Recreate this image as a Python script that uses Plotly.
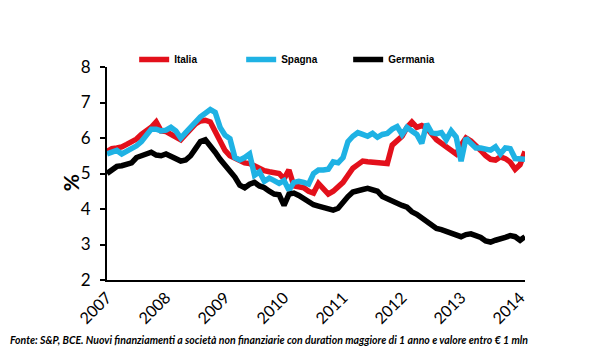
import plotly.graph_objects as go

years = ["2007", "2008", "2009", "2010", "2011", "2012", "2013", "2014"]

italia = [5.62, 5.70, 5.72, 5.75, 5.82, 5.90, 5.97, 6.10, 6.20, 6.30, 6.45, 6.20,
          6.18, 6.10, 6.00, 5.95, 6.10, 6.25, 6.40, 6.48, 6.50, 6.45, 6.20, 5.90,
          5.65, 5.50, 5.42, 5.35, 5.30, 5.28, 5.22, 5.12, 5.08, 5.05, 5.02, 5.00,
          4.85, 5.10, 4.65, 4.62, 4.60, 4.50, 4.45, 4.72, 4.55, 4.42, 4.50, 4.62,
          4.75, 4.95, 5.15, 5.25, 5.35, 5.33, 5.32, 5.30, 5.30, 5.28, 5.80, 5.95,
          6.05, 6.30, 6.45, 6.30, 6.35, 6.28, 6.10, 5.95, 5.85, 5.75, 5.62, 5.55,
          5.80, 6.00, 5.92, 5.80, 5.65, 5.50, 5.40, 5.38, 5.47, 5.42, 5.32, 5.12,
          5.25, 5.62]

spagna = [5.55, 5.60, 5.65, 5.55, 5.62, 5.70, 5.78, 5.90, 6.10, 6.25, 6.25, 6.20,
          6.22, 6.30, 6.20, 6.00, 6.15, 6.30, 6.50, 6.60, 6.70, 6.80, 6.72, 6.30,
          6.08, 5.98, 5.45, 5.38, 5.45, 5.55, 4.95, 5.05, 4.78, 4.87, 4.80, 4.72,
          4.80, 4.53, 4.75, 4.78, 4.75, 4.70, 5.00, 5.10, 5.10, 5.12, 5.33, 5.30,
          5.45, 5.90, 6.05, 6.15, 6.10, 6.05, 6.13, 6.02, 6.10, 6.13, 6.25, 6.32,
          6.10, 6.30, 6.20, 6.10, 5.85, 6.40, 6.15, 6.12, 6.15, 5.95, 6.20, 6.03,
          5.35, 6.00, 5.85, 5.72, 5.72, 5.68, 5.66, 5.75, 5.55, 5.72, 5.70, 5.42,
          5.42, 5.40]

germania = [5.00, 5.10, 5.20, 5.22, 5.25, 5.30, 5.45, 5.50, 5.58, 5.60, 5.52, 5.50,
            5.55, 5.48, 5.40, 5.35, 5.38, 5.50, 5.70, 5.90, 5.95, 5.80, 5.60, 5.40,
            5.25, 5.10, 4.90, 4.67, 4.60, 4.70, 4.75, 4.65, 4.60, 4.50, 4.42, 4.40,
            4.10, 4.42, 4.45, 4.38, 4.30, 4.18, 4.12, 4.08, 4.05, 4.00, 3.97, 4.02,
            4.20, 4.35, 4.48, 4.53, 4.55, 4.58, 4.55, 4.50, 4.35, 4.28, 4.22, 4.18,
            4.10, 4.05, 3.92, 3.85, 3.75, 3.65, 3.55, 3.45, 3.42, 3.37, 3.32, 3.28,
            3.22, 3.28, 3.30, 3.25, 3.20, 3.10, 3.07, 3.12, 3.18, 3.20, 3.25, 3.22,
            3.12, 3.22]

months = list(range(len(italia)))
tick_vals = [12 * i for i in range(len(years))]

fig = go.Figure()
fig.add_trace(go.Scatter(x=months, y=italia, name="Italia", mode="lines",
                         line=dict(color="#E3101B", width=5.5)))
fig.add_trace(go.Scatter(x=months, y=spagna, name="Spagna", mode="lines",
                         line=dict(color="#1FB2E4", width=5.5)))
fig.add_trace(go.Scatter(x=months, y=germania, name="Germania", mode="lines",
                         line=dict(color="#000000", width=5.5)))

fig.update_layout(
    width=600, height=360,
    margin=dict(l=99, r=83, t=59, b=88, autoexpand=False),
    paper_bgcolor="white", plot_bgcolor="white",
    font=dict(family="Lato, Arial, sans-serif", color="black"),
    legend=dict(orientation="h", x=0.065, xanchor="left", y=1.035, yanchor="middle",
                entrywidth=62, entrywidthmode="pixels",
                font=dict(family="Arial, Liberation Sans, sans-serif", size=10, weight="bold"),
                bgcolor="rgba(0,0,0,0)"),
    xaxis=dict(range=[0, 85], tickmode="array", tickvals=tick_vals, ticktext=years,
               tickangle=-45, showgrid=False, zeroline=False, showline=True,
               linecolor="black", linewidth=2, ticks="", tickfont=dict(size=16),
               automargin=False),
    yaxis=dict(range=[2, 8], dtick=1, showgrid=False, zeroline=False, showline=True,
               linecolor="black", linewidth=2, ticks="outside", ticklen=5, tickwidth=2,
               tickcolor="black", tickfont=dict(size=17), automargin=False,
               ticklabelstandoff=6),
    annotations=[
        dict(text="<b>%</b>", xref="paper", yref="paper", x=-0.088, y=0.455,
             xanchor="center", yanchor="middle", textangle=-90, showarrow=False,
             font=dict(size=21)),
        dict(text="<i>Fonte: S&amp;P, BCE. Nuovi finanziamenti a società non finanziarie con duration maggiore di 1 anno e valore entro € 1 mln</i>",
             xref="paper", yref="paper", x=-0.2368, y=-0.282, xanchor="left", yanchor="middle",
             showarrow=False, font=dict(size=10.5, weight="bold", family="Lato, sans-serif"))],
)

fig.write_html("out.html")
